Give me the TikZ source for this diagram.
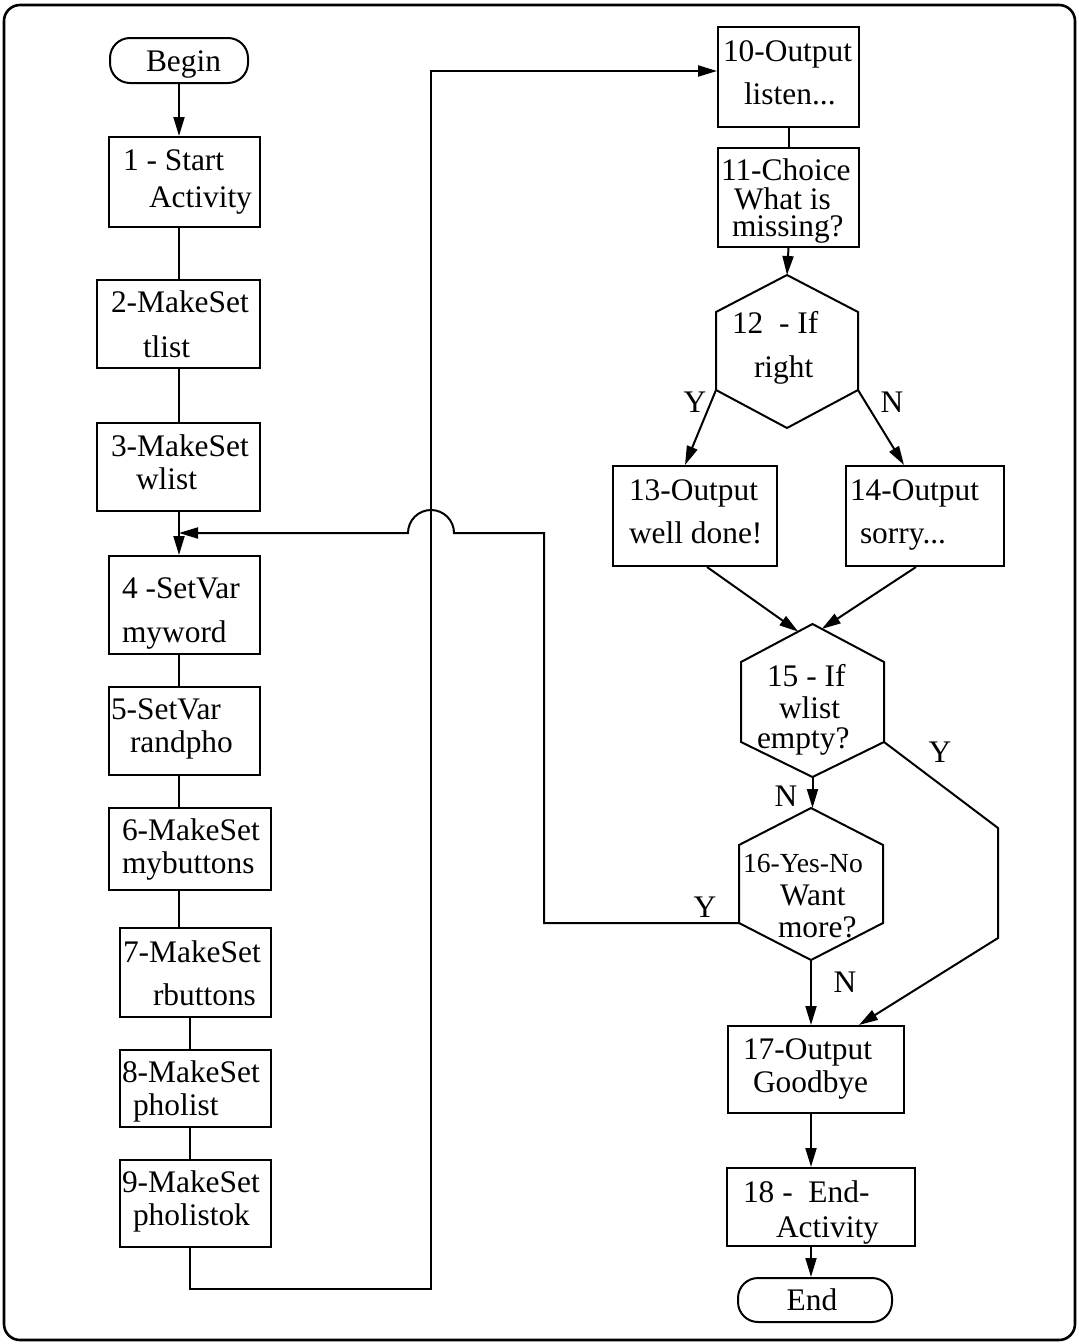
\documentclass[tikz,border=0pt]{standalone}
\usepackage{fontspec}
\setmainfont{Liberation Serif}
\usetikzlibrary{arrows.meta,calc}

% rectangle node given by its corners: name, style, x1, y1, x2, y2
\newcommand\flowbox[6]{%
  \node[#2, minimum width={(#5-#3)*0.5pt}, minimum height={(#6-#4)*0.5pt}]
    (#1) at ({(#3+#5)/2},{(#4+#6)/2}) {};}

% pointed hexagon: name, left x, right x, top y, upper side y, lower side y, bottom y
\newcommand\hexshape[7]{%
  \coordinate (#1-t)  at ({(#2+#3)/2},#4);
  \coordinate (#1-ur) at (#3,#5);
  \coordinate (#1-lr) at (#3,#6);
  \coordinate (#1-b)  at ({(#2+#3)/2},#7);
  \coordinate (#1-ll) at (#2,#6);
  \coordinate (#1-ul) at (#2,#5);
  \draw (#1-t) -- (#1-ur) -- (#1-lr) -- (#1-b) -- (#1-ll) -- (#1-ul) -- cycle;}

\begin{document}
\begin{tikzpicture}[x=0.5pt,y=-0.5pt,
  line width=1pt,
  flow/.style={draw, line width=1pt, rectangle, inner sep=0pt},
  term/.style={flow, rounded corners=10pt},
  txt/.style={anchor=base west, inner sep=0pt, font=\fontsize{15.7}{18}\selectfont},
  smalltxt/.style={txt, font=\fontsize{13.8}{16}\selectfont},
  lbl/.style={anchor=base, inner sep=0pt, font=\fontsize{15.7}{18}\selectfont},
  arr/.style={-{Triangle[length=9.5pt,width=5.5pt]}},
]
\useasboundingbox (0,0) rectangle (1079,1344);

% outer frame
\draw[line width=1.3pt, rounded corners=8pt] (4,5) rectangle (1075,1340);

% ---- left column ----
\flowbox{begin}{term}{110}{38}{248}{83}
\flowbox{b1}{flow}{109}{137}{260}{227}
\flowbox{b2}{flow}{97}{280}{260}{368}
\flowbox{b3}{flow}{97}{423}{260}{511}
\flowbox{b4}{flow}{109}{556}{260}{654}
\flowbox{b5}{flow}{109}{687}{260}{775}
\flowbox{b6}{flow}{109}{808}{271}{890}
\flowbox{b7}{flow}{120}{928}{271}{1017}
\flowbox{b8}{flow}{120}{1050}{271}{1127}
\flowbox{b9}{flow}{120}{1160}{271}{1247}

% ---- right column ----
\flowbox{b10}{flow}{718}{27}{859}{127}
\flowbox{b11}{flow}{718}{148}{859}{247}
\flowbox{b13}{flow}{613}{466}{777}{566}
\flowbox{b14}{flow}{846}{466}{1004}{566}
\flowbox{b17}{flow}{728}{1026}{904}{1113}
\flowbox{b18}{flow}{727}{1168}{915}{1246}
\flowbox{end}{term}{738}{1278}{892}{1322}

\hexshape{h12}{716}{858}{275}{312}{390}{428}
\hexshape{h15}{741}{884}{624}{662}{742}{777}
\hexshape{h16}{739}{883}{808}{845}{923}{960}

% ---- texts ----
\node[txt] (tbegin) at (145,71) {Begin};
\node[txt] (t1a) at (122,170) {1 - Start};
\node[txt] (t1b) at (148,207) {Activity};
\node[txt] (t2a) at (110,312) {2-MakeSet};
\node[txt] (t2b) at (142,357) {tlist};
\node[txt] (t3a) at (110,456) {3-MakeSet};
\node[txt] (t3b) at (135,489) {wlist};
\node[txt] (t4a) at (121,598) {4 -SetVar};
\node[txt] (t4b) at (121,642) {myword};
\node[txt] (t5a) at (110,719) {5-SetVar};
\node[txt] (t5b) at (129,752) {randpho};
\node[txt] (t6a) at (121,840) {6-MakeSet};
\node[txt] (t6b) at (121,873) {mybuttons};
\node[txt] (t7a) at (122,962) {7-MakeSet};
\node[txt] (t7b) at (152,1005) {rbuttons};
\node[txt] (t8a) at (121,1082) {8-MakeSet};
\node[txt] (t8b) at (132,1115) {pholist};
\node[txt] (t9a) at (121,1192) {9-MakeSet};
\node[txt] (t9b) at (132,1225) {pholistok};

\node[txt] (t10a) at (722,61) {10-Output};
\node[txt] (t10b) at (743,104) {listen...};
\node[txt] (t11a) at (720,180) {11-Choice};
% the question is set as one tightly spaced block (base = last line)
\node[txt, align=left, font=\fontsize{15.7}{13.5}\selectfont]
  (t11b) at (731,236) {\hspace*{1pt}What is\\missing?};
\node[txt] (t12a) at (731,333) {12\ \ - If};
\node[txt] (t12b) at (753,377) {right};
\node[txt] (t13a) at (628,500) {13-Output};
\node[txt] (t13b) at (628,543) {well done!};
\node[txt] (t14a) at (849,500) {14-Output};
\node[txt] (t14b) at (859,543) {sorry...};
\node[txt] (t15a) at (766,686) {15 - If};
\node[txt] (t15b) at (778,718) {wlist};
\node[txt] (t15c) at (756,748) {empty?};
\node[smalltxt] (t16a) at (742,872) {16-Yes-No};
\node[txt] (t16b) at (779,905) {Want};
\node[txt] (t16c) at (777,937) {more?};
\node[txt] (t17a) at (742,1059) {17-Output};
\node[txt] (t17b) at (752,1092) {Goodbye};
\node[txt] (t18a) at (742,1202) {18 -\ \ End-};
\node[txt] (t18b) at (775,1237) {Activity};
\node[lbl] (tend) at (812,1310) {End};

% branch labels
\node[lbl] (y12) at (695,412) {Y};
\node[lbl] (n12) at (892,412) {N};
\node[lbl] (y15) at (940,762) {Y};
\node[lbl] (n15) at (786,806) {N};
\node[lbl] (y16) at (705,917) {Y};
\node[lbl] (n16) at (845,992) {N};

% ---- connectors ----
\coordinate (spine) at (179,0);
\coordinate (spine2) at (190,0);
\coordinate (trunkTop) at (431,71);
\coordinate (trunkBot) at (431,1289);
\coordinate (loopA) at (544,923);
\coordinate (loopB) at (544,533);
\coordinate (yr1) at (998,828);
\coordinate (yr2) at (998,938);

\draw[arr] (begin.south -| spine) -- (b1.north -| spine);
\draw (b1.south -| spine) -- (b2.north -| spine);
\draw (b2.south -| spine) -- (b3.north -| spine);
\draw[arr] (b3.south -| spine) -- (b4.north -| spine);
\draw (b4.south -| spine) -- (b5.north -| spine);
\draw (b5.south -| spine) -- (b6.north -| spine);
\draw (b6.south -| spine) -- (b7.north -| spine);
\draw (b7.south -| spine2) -- (b8.north -| spine2);
\draw (b8.south -| spine2) -- (b9.north -| spine2);
\draw[arr] (b9.south -| spine2) |- (trunkBot) -- (trunkTop) -- (b10.west |- trunkTop);

\draw (b10.south) -- (b11.north);
\draw[arr] (b11.south) -- (h12-t);
\draw[arr] (h12-ll) -- ($(b13.north)+(-10,0)$);
\draw[arr] (h12-lr) -- ($(b14.north)+(-21,0)$);
\draw[arr] ($(b13.south)+(12,0)$) -- ($(h15-t)!0.2!(h15-ul)$);
\draw[arr] ($(b14.south)+(-9,0)$) -- ($(h15-t)!0.13!(h15-ur)$);
\draw[arr] (h15-b) -- (h15-b |- h16-t);
\draw[arr] (h15-lr) -- (yr1) -- (yr2) -- ($(b17.north)+(43,0)$);
\draw[arr] (h16-ll) -- (loopA) -- (loopB) -- ++(-90,0)
  arc[start angle=0, end angle=180, radius=11.5pt] -- (spine |- loopB);
\draw[arr] (h16-b) -- (h16-b |- b17.north);
\draw[arr] (b17.south -| h16-b) -- (b18.north -| h16-b);
\draw[arr] (b18.south -| h16-b) -- (end.north -| h16-b);
\end{tikzpicture}
\end{document}
